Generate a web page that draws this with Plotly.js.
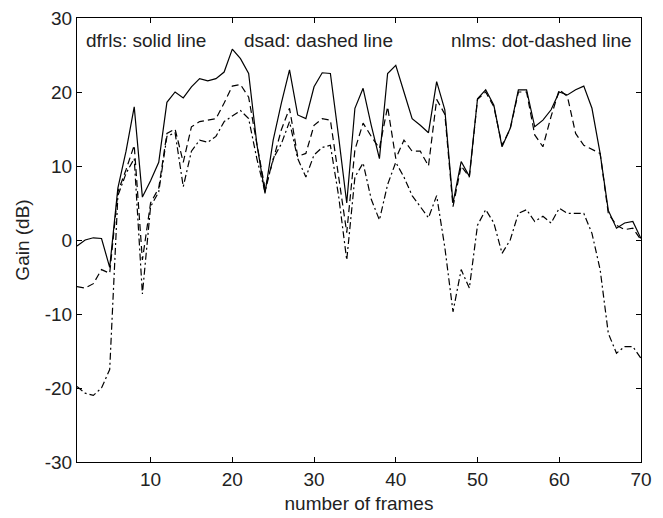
<!DOCTYPE html>
<html>
<head>
<meta charset="utf-8">
<script src="https://cdn.plot.ly/plotly-3.0.1.min.js"></script>
<style>html,body{margin:0;padding:0;background:#fff;}#chart{width:663px;height:518px;}</style>
</head>
<body>
<div id="chart"></div>
<script>
const frames = Array.from({length: 70}, (_, i) => i + 1);

const dfrls = [-0.8, 0, 0.3, 0.2, -3.7, 7, 12, 18, 5.8, 8,
  10.5, 18.6, 20, 19.2, 20.7, 21.8, 21.5, 21.8, 22.7, 25.8,
  24.5, 22.5, 13, 6.3, 13.5, 18.5, 23, 16.9, 16.4, 20.7,
  22.6, 22.5, 14, 5, 17.8, 20.5, 15.5, 11, 22.5, 23.6,
  20, 16.4, 15.5, 14.5, 21.4, 17.6, 5, 10.6, 8.6, 19.1,
  20.3, 18.2, 12.6, 15.1, 20.3, 20.3, 15.3, 16.2, 17.6, 20,
  19.6, 20.3, 20.8, 17.8, 11.7, 4, 1.6, 2.3, 2.5, 0.2];

const dsad = [-6.3, -6.5, -5.9, -4, -4.5, 6.5, 9.5, 12.8, -2.7, 5,
  7, 14.4, 15, 10.5, 15.3, 16, 16.2, 16.4, 18.5, 20.8,
  21, 19.3, 13, 7, 10.8, 14.9, 17.8, 11.3, 11.7, 15.5,
  16.4, 16.2, 8.6, 1, 12.2, 15.8, 14, 12.4, 18, 11,
  13.5, 12, 12, 10, 19, 17, 4.5, 10, 8.5, 19,
  20, 18, 12.8, 15, 20, 20, 14.2, 12.6, 16.7, 20.3,
  19.4, 14.4, 12.8, 12.2, 11.7, 3.6, 2, 1.4, 1.6, 0];

const nlms = [-19.8, -20.7, -21, -20, -17.5, 6, 9, 11, -7.3, 4.5,
  6.5, 14, 14.5, 7.2, 12, 13.5, 13.2, 14, 16, 16.8,
  17.5, 16.4, 11, 6.5, 11, 13, 16, 11, 8.5, 11.5,
  12.5, 12.8, 6, -2.7, 8.5, 10.4, 5.5, 2.7, 7.5, 10.5,
  8.5, 6, 4.5, 3, 6, -1, -9.7, -4, -6.5, 2,
  4.1, 2.3, -1.8, 0, 3.6, 4.1, 2.5, 3.2, 2.3, 4.3,
  3.6, 3.6, 3.6, 0.9, -4, -12.6, -15.3, -14.4, -14.4, -16];

const xTicks = [10, 20, 30, 40, 50, 60, 70];
const yTicks = [-30, -20, -10, 0, 10, 20, 30];
const legendTexts = ["dfrls: solid line", "dsad: dashed line", "nlms: dot-dashed line"];

const FONT = "Liberation Sans, Arial, Helvetica, sans-serif";
const TXT = "#222222";

const traces = [
  {x: frames, y: dfrls, mode: "lines", line: {color: "#000", width: 1.2, dash: "solid"}},
  {x: frames, y: dsad, mode: "lines", line: {color: "#000", width: 1.2, dash: "7px,4px"}},
  {x: frames, y: nlms, mode: "lines", line: {color: "#000", width: 1.2, dash: "7px,3px,2px,3px"}}
];

const axisCommon = {
  showline: true, linecolor: "#000", linewidth: 1, mirror: "ticks",
  ticks: "inside", ticklen: 5, tickcolor: "#000", tickwidth: 1,
  showgrid: false, zeroline: false,
  tickfont: {family: FONT, size: 19, color: TXT}
};

const layout = {
  width: 663, height: 518,
  margin: {l: 77, r: 22, t: 18, b: 56, pad: 0},
  paper_bgcolor: "#fff", plot_bgcolor: "#fff",
  showlegend: false,
  font: {family: FONT, size: 19, color: TXT},
  xaxis: Object.assign({}, axisCommon, {
    range: [1, 70], tickmode: "array", tickvals: xTicks, ticktext: xTicks.map(String),
    title: {text: "number of frames", font: {family: FONT, size: 19, color: TXT}, standoff: 7}
  }),
  yaxis: Object.assign({}, axisCommon, {
    range: [-30, 30], tickmode: "array", tickvals: yTicks, ticktext: yTicks.map(String),
    title: {text: "Gain (dB)", font: {family: FONT, size: 19, color: TXT}, standoff: 10}
  }),
  annotations: [
    {text: legendTexts[0], xref: "paper", yref: "paper", x: 0.013, y: 0.95, xanchor: "left", yanchor: "middle", showarrow: false, font: {family: FONT, size: 19, color: TXT}},
    {text: legendTexts[1], xref: "paper", yref: "paper", x: 0.292, y: 0.95, xanchor: "left", yanchor: "middle", showarrow: false, font: {family: FONT, size: 19, color: TXT}},
    {text: legendTexts[2], xref: "paper", yref: "paper", x: 0.988, y: 0.95, xanchor: "right", yanchor: "middle", showarrow: false, font: {family: FONT, size: 19, color: TXT}}
  ]
};

Plotly.newPlot("chart", traces, layout, {displayModeBar: false, staticPlot: true});
</script>
</body>
</html>
